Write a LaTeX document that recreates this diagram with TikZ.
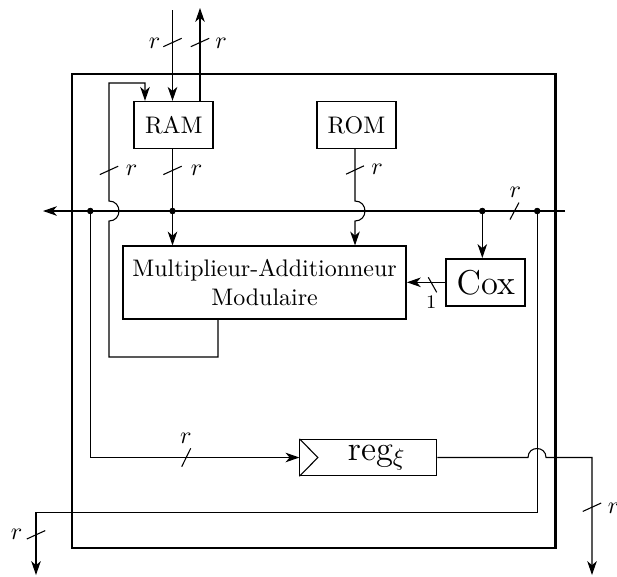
\documentclass[tikz,border=0pt]{standalone}
\usetikzlibrary{arrows.meta,calc}
\begin{document}
\begin{tikzpicture}[x=0.4175pt,y=-0.4175pt,
  wire/.style={line width=0.45pt},
  arr/.style={wire,-{Stealth[length=5.8pt,width=4pt,inset=1.7pt]}},
  blk/.style={draw,line width=0.7pt,inner sep=0pt,align=center},
  dotn/.style={circle,fill,inner sep=0pt,minimum size=2.6pt},
  lbl/.style={inner sep=0pt},
  tick/.style={line width=0.45pt}
]
\useasboundingbox (0,0) rectangle (617,576);
% outer chip
\draw[line width=0.85pt] (72,74) rectangle (555.5,548);
% blocks
\node[blk,minimum width=33pt,minimum height=19.5pt] (ram) at (173.8,125) {RAM};
\node[blk,minimum width=33pt,minimum height=19.5pt] (rom) at (356.5,125) {ROM};
\node[blk,minimum width=118.1pt,minimum height=30.5pt] (mult) at (264.6,282.8) {Multiplieur-Additionneur\\Modulaire};
\node[blk,minimum width=33pt,minimum height=19.6pt,font=\Large] (cox) at (485.7,282.3) {Cox};
\node[draw,line width=0.4pt,inner sep=0pt,minimum width=57.2pt,minimum height=15.2pt,font=\Large] (reg) at (368.4,457.5) {\hspace{7pt}reg$_\xi$};
\draw[wire] (reg.north west) -- ($(reg.west)+(18.5,0)$) -- (reg.south west);
% junction dots
\node[dotn] (d1) at (90.3,211) {};
\node[dotn] (d2) at (172.5,211) {};
\node[dotn] (d3) at (482.3,211) {};
\node[dotn] (d4) at (537.2,211) {};
% free ends
\coordinate (busR) at (565,211);
\coordinate (busL) at (43,211);
\coordinate (inT) at (172.5,10);
\coordinate (outT) at (200,8);
\coordinate (fb) at (218,0);
\coordinate (ramin) at (145,0);
\coordinate (romx) at (355,0);
\coordinate (outBL) at (36,575);
\coordinate (outBR) at (592,575);
% bus
\draw[arr] (busR) -- (busL);
% RAM ports
\draw[arr] (inT) -- (ram.north -| inT);
\draw[arr] (ram.north -| outT) -- (outT);
\draw[arr] (ram.south -| d2) -- (d2.center) -- (mult.north -| d2);
% ROM to multiplier, jumping over bus
\draw[arr] (rom.south -| romx) -- (355,201) .. controls (368.3,201) and (368.3,221) .. (355,221) -- (mult.north -| romx);
% feedback loop
\draw[arr] (mult.south -| fb) -- (218,357) -- (109,357) -- (109,221) .. controls (122.3,221) and (122.3,201) .. (109,201) -- (109,83) -- (145,83) -- (ram.north -| ramin);
% Cox
\draw[arr] (d3.center) -- (cox.north -| d3);
\draw[arr] (cox.west) -- (mult.east |- cox.west);
% to register
\draw[arr] (d1.center) |- (reg.west);
% register output with jump
\draw[arr] (reg.east) -- (528,457.5) .. controls (528,445.5) and (546,445.5) .. (546,457.5) -- (592,457.5) -- (outBR);
% bus tap to bottom left output
\draw[arr] (d4.center) -- (537.2,512.3) -| (outBL);
% redraw dots on top
\fill (d1) circle (1.3pt);
\fill (d2) circle (1.3pt);
\fill (d3) circle (1.3pt);
\fill (d4) circle (1.3pt);
% bus width ticks (vertical wires)
\draw[tick] (163.3,46.7) -- (181.7,38.3);
\node[lbl] (l1) at (154.7,43.3) {$r$};
\draw[tick] (190.8,46.7) -- (209.2,38.3);
\node[lbl] (l2) at (221,43.3) {$r$};
\draw[tick] (99.8,174.6) -- (118.2,166.2);
\node[lbl] (l3) at (131.7,170.3) {$r$};
\draw[tick] (163.3,174.6) -- (181.7,166.2);
\node[lbl] (l4) at (196.7,170.3) {$r$};
\draw[tick] (346,174.2) -- (364,165.8);
\node[lbl] (l5) at (377,169.5) {$r$};
\draw[tick] (26.8,539) -- (45.2,530.6);
\node[lbl] (l6) at (16.7,534.2) {$r$};
\draw[tick] (582.8,511.4) -- (601.2,503);
\node[lbl] (l7) at (613.5,508.7) {$r$};
% ticks on horizontal wires
\draw[tick] (510,219.5) -- (519,202.5);
\node[lbl] (l8) at (515.3,192) {$r$};
\draw[tick] (181.7,466.7) -- (190.7,448.3);
\node[lbl] (l9) at (185.8,438.8) {$r$};
\draw[tick] (428.3,277.3) -- (436.7,292.3);
\node[lbl,font=\footnotesize] (l10) at (431.3,302.5) {1};
\end{tikzpicture}
\end{document}
